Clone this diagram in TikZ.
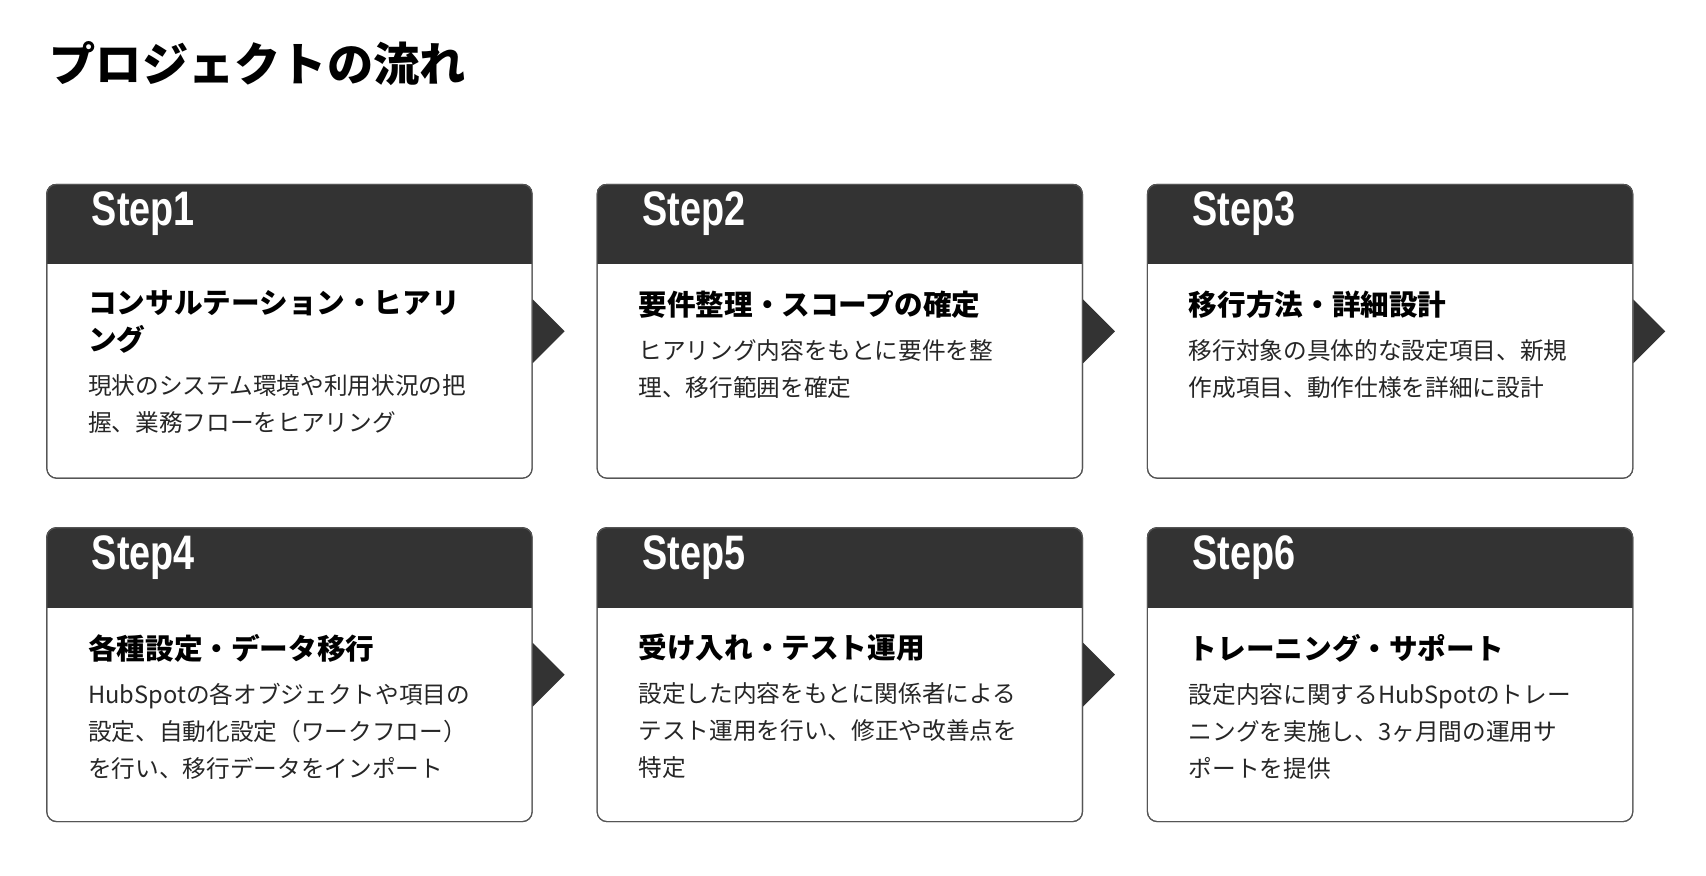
\documentclass[tikz,border=0pt]{standalone}
\usepackage{fontspec}
\setmainfont{Noto Sans CJK JP}
\newfontfamily\stepfont[FakeStretch=0.78]{Liberation Sans}
\usetikzlibrary{positioning}
\definecolor{cardhead}{HTML}{333333}
\definecolor{cardline}{HTML}{555555}

\begin{document}
\begin{tikzpicture}[x=1pt,y=-1pt,
    card/.style={draw=cardline, line width=1pt, rounded corners=9pt,
                 minimum width=441pt, minimum height=267pt, inner sep=0pt},
    step label/.style={anchor=base west, text=white, font=\stepfont\bfseries\fontsize{44}{44}\selectfont},
    head text/.style={anchor=north west, inner sep=0pt, align=left, text width=360pt,
                      font=\bfseries\fontsize{26}{33}\selectfont},
    body text/.style={anchor=north west, inner sep=0pt, align=left, text width=360pt,
                      font=\fontsize{21.5}{33.5}\selectfont, text=black!85},
    next arrow/.style={fill=cardhead}]
  \useasboundingbox (0,0) rectangle (1550,795);

  % Title
  \node[anchor=base west, inner sep=0pt, font=\bfseries\fontsize{42}{42}\selectfont]
    (title) at (45,74) {プロジェクトの流れ};

  % One card: name, corner, step, heading, body
  \newcommand\stepcard[6]{
    \node[card, anchor=north west] (#1) at (#2) {};
    \begin{scope}
      \clip[rounded corners=9pt] (#1.north west) rectangle (#1.south east);
      \fill[cardhead] (#1.north west) rectangle ([yshift=-73pt]#1.north east);
    \end{scope}
    \node[card, anchor=north west] at (#2) {};
    \node[step label] (#1-step) at ([xshift=38pt,yshift=-38pt]#1.north west) {#3};
    \node[head text] (#1-head) at ([xshift=38pt,yshift=-97pt]#1.north west) {#4};
    \node[body text, below=19pt of #1-head.south west, anchor=north west] (#1-body) {#5};
    \ifx#6y
      \fill[next arrow] ([yshift=29pt]#1.east) -- ([xshift=29pt]#1.east) -- ([yshift=-29pt]#1.east) -- cycle;
    \fi
  }

  % Top row
  \stepcard{step1}{42,167}{Step1}{コンサルテーション・ヒアリ\\ング}{現状のシステム環境や利用状況の把\\握、業務フローをヒアリング}{y}
  \stepcard{step2}{542,167}{Step2}{要件整理・スコープの確定}{ヒアリング内容をもとに要件を整\\理、移行範囲を確定}{y}
  \stepcard{step3}{1042,167}{Step3}{移行方法・詳細設計}{移行対象の具体的な設定項目、新規\\作成項目、動作仕様を詳細に設計}{y}

  % Bottom row
  \stepcard{step4}{42,479}{Step4}{各種設定・データ移行}{HubSpotの各オブジェクトや項目の\\設定、自動化設定（ワークフロー）\\を行い、移行データをインポート}{y}
  \stepcard{step5}{542,479}{Step5}{受け入れ・テスト運用}{設定した内容をもとに関係者による\\テスト運用を行い、修正や改善点を\\特定}{y}
  \stepcard{step6}{1042,479}{Step6}{トレーニング・サポート}{設定内容に関するHubSpotのトレー\\ニングを実施し、3ヶ月間の運用サ\\ポートを提供}{n}
\end{tikzpicture}
\end{document}
